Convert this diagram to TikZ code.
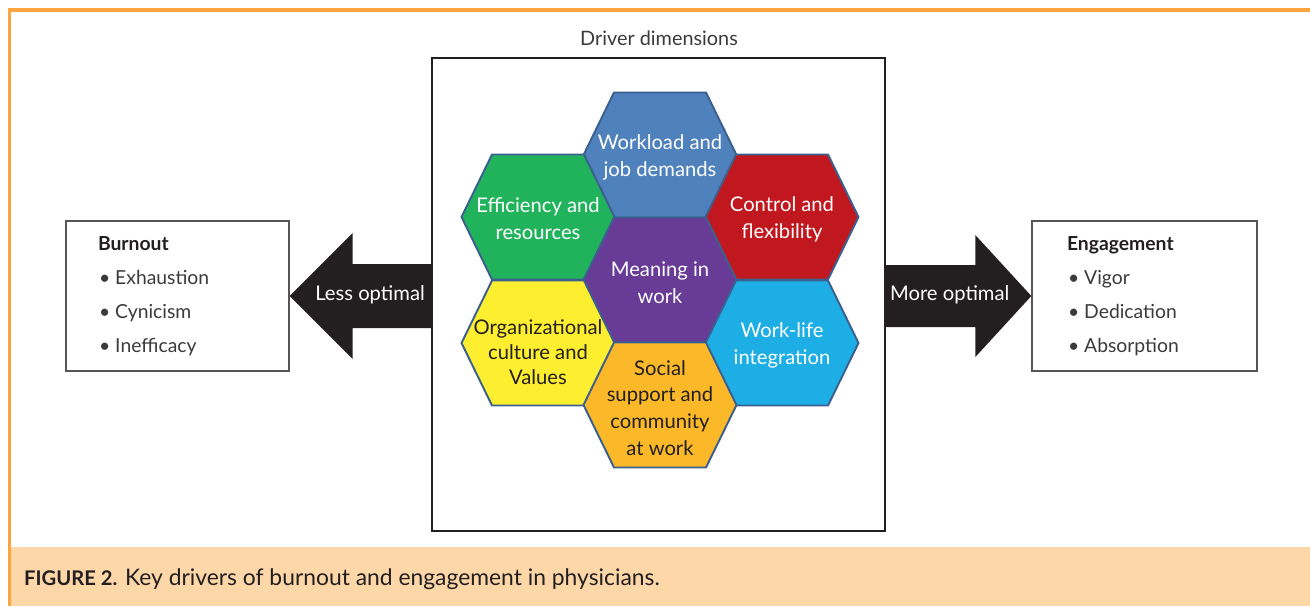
\documentclass[tikz,border=0pt]{standalone}
\usepackage{fontspec}
\setmainfont{Lato}
\usetikzlibrary{calc}

\definecolor{framecol}{HTML}{FBA440}
\definecolor{captionfill}{HTML}{FDD7A8}
\definecolor{inkdark}{HTML}{231F20}
\definecolor{textgray}{HTML}{3A3A3A}
\definecolor{boxedge}{HTML}{555555}
\definecolor{hexedge}{HTML}{3B5F8F}
\definecolor{hexblue}{HTML}{4F81BD}
\definecolor{hexgreen}{HTML}{21B35C}
\definecolor{hexred}{HTML}{C1181F}
\definecolor{hexpurple}{HTML}{673B96}
\definecolor{hexyellow}{HTML}{FDEE30}
\definecolor{hexcyan}{HTML}{1CAEE4}
\definecolor{hexorange}{HTML}{FBB829}

\tikzset{
  hexline/.style={draw=hexedge, line width=1.1pt, line join=miter},
  hextext/.style={align=center, inner sep=0pt, text=white, font=\fontsize{11.5}{15.3}\selectfont},
  hexdark/.style={hextext, text=inkdark},
  sidebox/.style={draw=boxedge, line width=0.8pt, minimum height=3cm, inner ysep=0pt,
    align=left, text=textgray, font=\fontsize{11}{19.3}\selectfont},
  blockarrow/.style={fill=inkdark},
  arrowtext/.style={text=white, font=\fontsize{11.5}{14}\selectfont},
}

% one hexagon of the driver cluster, centre given in pixels
\newcommand{\hexcell}[3]{%
  \filldraw[hexline, fill=#3, shift={(#1,#2)}] (-46,-62.5) -- (46,-62.5) -- (76.5,0)
    -- (46,62.5) -- (-46,62.5) -- (-76.5,0) -- cycle;}
\newcommand{\dotline}[1]{\hspace{0.02cm}\textbullet\hspace{0.1cm}#1}

\begin{document}
\begin{tikzpicture}[x=0.02cm, y=-0.02cm]
    \useasboundingbox (0,0) rectangle (1310,606);

    % Frame and caption band
    \fill[captionfill] (11,547) rectangle (1310,606);
    \draw[framecol, line width=1.9pt] (9.7,606) -- (9.7,10) -- (1310,10);
    \node[anchor=base west, text=inkdark, font=\fontsize{13}{15}\selectfont] (caption) at (18,585)
        {{\fontsize{11.5}{14}\selectfont\textbf{FIGURE 2.}} Key drivers of burnout and engagement in physicians.};

    % Driver box
    \node[draw=inkdark, line width=0.75pt, minimum width=9.06cm, minimum height=9.46cm] (drivers) at (658.5,294.5) {};
    \node[text=textgray, font=\fontsize{11.3}{14}\selectfont] (drvtitle) at (659,38) {Driver dimensions};

    % Hexagons
    \hexcell{660}{155}{hexblue}
    \hexcell{538}{217}{hexgreen}
    \hexcell{782}{217}{hexred}
    \hexcell{660}{280}{hexpurple}
    \hexcell{538}{343}{hexyellow}
    \hexcell{782}{343}{hexcyan}
    \hexcell{660}{405}{hexorange}

    % Hexagon labels
    \node[hextext] (workload) at (660,157) {Workload and\\job demands};
    \node[hextext] (efficiency) at (538,219) {Efficiency and\\resources};
    \node[hextext] (control) at (782,219) {Control and\\flexibility};
    \node[hextext] (meaning) at (660,283) {Meaning in\\work};
    \node[hexdark, font=\fontsize{11.5}{14.2}\selectfont] (culture) at (538,352) {Organizational\\culture and\\Values};
    \node[hextext] (worklife) at (782,345) {Work-life\\integration};
    \node[hexdark] (social) at (660,408) {Social\\support and\\community\\at work};

    % Outcome boxes
    \node[sidebox, text width=3.18cm, inner xsep=0.64cm] (burnout) at (177.5,296)
        {\textbf{\color{inkdark}Burnout}\\ \dotline{Exhaustion}\\ \dotline{Cynicism}\\ \dotline{Inefficacy}};
    \node[sidebox, text width=3.1cm, inner xsep=0.7cm] (engagement) at (1144.5,296)
        {\textbf{\color{inkdark}Engagement}\\ \dotline{Vigor}\\ \dotline{Dedication}\\ \dotline{Absorption}};

    % Arrows
    \fill[blockarrow] (burnout.east) -- ++(63,-63) -- ++(0,31) -- ++(80,0) -- ++(0,64)
        -- ++(-80,0) -- ++(0,31) -- cycle;
    \fill[blockarrow] (engagement.west) -- ++(-56,-61) -- ++(0,30) -- ++(-91,0) -- ++(0,62)
        -- ++(91,0) -- ++(0,30) -- cycle;
    \node[arrowtext] (less) at ($(burnout.east)!0.567!(drivers.west)$) {Less optimal};
    \node[arrowtext] (more) at ($(drivers.east)!0.44!(engagement.west)$) {More optimal};
\end{tikzpicture}
\end{document}
